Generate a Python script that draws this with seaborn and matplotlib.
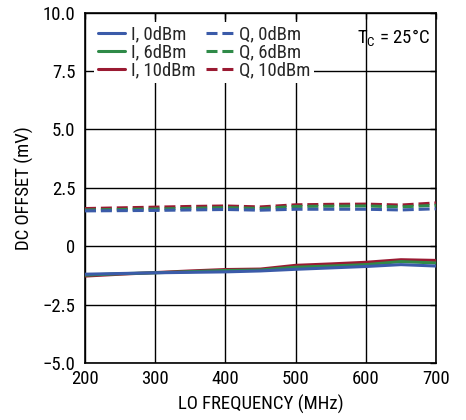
import numpy as np
import pandas as pd
import matplotlib
matplotlib.use("Agg")
import matplotlib.pyplot as plt
import seaborn as sns

freq = [200, 250, 300, 350, 400, 450, 500, 550, 600, 650, 700]
i_0dbm = [-1.20, -1.17, -1.14, -1.12, -1.10, -1.06, -0.99, -0.93, -0.87, -0.79, -0.85]
i_6dbm = [-1.24, -1.18, -1.14, -1.09, -1.04, -1.02, -0.90, -0.85, -0.79, -0.66, -0.72]
i_10dbm = [-1.28, -1.20, -1.13, -1.06, -1.00, -0.98, -0.82, -0.76, -0.69, -0.58, -0.61]
q_0dbm = [1.51, 1.52, 1.53, 1.55, 1.57, 1.54, 1.58, 1.58, 1.58, 1.55, 1.60]
q_6dbm = [1.55, 1.57, 1.59, 1.62, 1.65, 1.61, 1.70, 1.71, 1.72, 1.68, 1.75]
q_10dbm = [1.61, 1.64, 1.67, 1.70, 1.72, 1.68, 1.77, 1.79, 1.80, 1.76, 1.85]

labels = ["I, 0dBm", "I, 6dBm", "I, 10dBm", "Q, 0dBm", "Q, 6dBm", "Q, 10dBm"]
series = [i_0dbm, i_6dbm, i_10dbm, q_0dbm, q_6dbm, q_10dbm]
blue, green, red = "#3b5ba9", "#2f8a48", "#9a1a32"
colors = [blue, green, red, blue, green, red]

sns.set_theme(style="white")
plt.rcParams['font.family'] = ['Roboto Condensed', 'DejaVu Sans']
FS = 13.5

fig = plt.figure(figsize=(4.66, 4.20), dpi=100)
ax = fig.add_axes([85/466, 1-363/420, (436-85)/466, (363-12.5)/420])

handles = {}
draw_order = [2, 1, 0, 5, 4, 3]
for k in draw_order:
    df = pd.DataFrame({"freq": freq, "val": series[k]})
    sns.lineplot(data=df, x="freq", y="val", ax=ax, color=colors[k], lw=2.2,
                 legend=False, zorder=3)
    ln = ax.get_lines()[-1]
    if k >= 3:
        ln.set_dashes((3.6, 1.6))
    handles[k] = ln

ax.set_xlim(200, 700)
ax.set_ylim(-5, 10)
ax.set_xticks([200, 300, 400, 500, 600, 700])
ax.set_yticks([-5, -2.5, 0, 2.5, 5, 7.5, 10])
ax.set_yticklabels(["\u22125.0", "\u22122.5", "0", "2.5", "5.0", "7.5", "10.0"])
ax.grid(True, color="black", lw=1.0)
ax.set_axisbelow(True)
for s in ax.spines.values():
    s.set_color("black")
    s.set_linewidth(1.2)
ax.tick_params(direction="in", length=4, width=1, colors="black", labelsize=FS,
               top=True, right=True)
ax.tick_params(axis="x", pad=5)
ax.tick_params(axis="y", pad=7)
ax.set_xlabel("LO FREQUENCY (MHz)", fontsize=FS, color="black", labelpad=5)
ax.set_ylabel("DC OFFSET (mV)", fontsize=FS, color="black", labelpad=6)

leg = ax.legend([handles[k] for k in range(6)], labels, ncol=2, loc="upper left",
                bbox_to_anchor=(0.0, 1.0), fontsize=FS, frameon=True,
                handlelength=1.45, handletextpad=0.3, columnspacing=0.55,
                labelspacing=0.0, borderpad=0.2, borderaxespad=0.5,
                fancybox=False)
leg.get_frame().set_edgecolor("none")
leg.get_frame().set_facecolor("white")
leg.get_frame().set_alpha(1)
leg.set_zorder(2)

ax.text(0.983, 0.958, "T$_\\mathregular{C}$ = 25\u00b0C", transform=ax.transAxes,
        ha="right", va="top", fontsize=FS, color="black", zorder=4)

fig.savefig("out.png", dpi=100)
